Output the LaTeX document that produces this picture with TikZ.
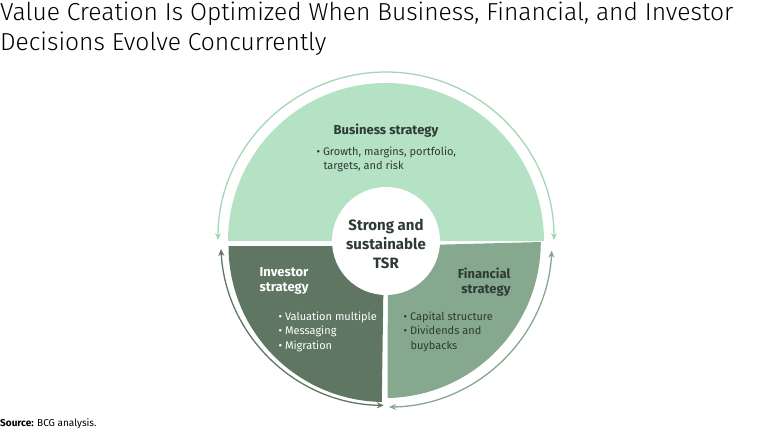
\documentclass[tikz,border=0pt]{standalone}
\usepackage{fontspec}
\setmainfont{Fira Sans}
\newfontfamily\lightf{Fira Sans Light}
\usetikzlibrary{arrows.meta}
\definecolor{topg}{HTML}{B5E2C4}
\definecolor{topa}{HTML}{A3D6B4}
\definecolor{dkg}{HTML}{5E7662}
\definecolor{mdg}{HTML}{86A88E}
\definecolor{txt}{HTML}{2E3A33}
\tikzset{
  cyc/.style={line width=1.3pt,{Stealth[length=7pt,width=6pt]}-{Stealth[length=7pt,width=6pt]}},
  head/.style={font=\fontsize{13}{15}\selectfont\bfseries,align=left},
  body/.style={font=\fontsize{11}{14.5}\selectfont,align=left,anchor=north west}
}
\begin{document}
\begin{tikzpicture}[x=1pt,y=-1pt]
\useasboundingbox (0,0) rectangle (768,433);
\node[anchor=west,inner sep=0,font=\lightf\fontsize{24.6}{28}\selectfont] (t1) at (0,14) {Value Creation Is Optimized When Business, Financial, and Investor};
\node[anchor=west,inner sep=0,font=\lightf\fontsize{24.6}{28}\selectfont] (t2) at (0,44) {Decisions Evolve Concurrently};
% pie
\fill[topg] (228,241) arc[start angle=180,end angle=360,radius=158] -- cycle;
\fill[dkg] (384,246) -- (228.5,246) arc[start angle=180,end angle=91,radius=156] -- cycle;
\fill[mdg] (388,246) -- (387.5,398) arc[start angle=89,end angle=0,radius=156] -- cycle;
\fill[white] (386,241) circle[radius=54];
\node[font=\fontsize{15}{19}\selectfont\bfseries,align=center,text=txt] (c) at (386,244) {Strong and\\sustainable\\TSR};
% arcs
\coordinate (a1) at (218,240);
\coordinate (a2) at (554,240);
\draw[cyc,topa] (a1) arc[start angle=180,end angle=360,radius=168];
\draw[cyc,dkg] (221,249) arc[start angle=177,end angle=90.7,radius=165];
\draw[cyc,mdg] (389,407) arc[start angle=89.3,end angle=3,radius=165];
% texts
\node[head,text=txt] (bs) at (386,131) {Business strategy};
\node[body,text=txt] (bl) at (313,143) {\textbullet\ Growth, margins, portfolio,\\\hspace*{7pt}targets, and risk};
\node[head,text=white,anchor=north west] (is) at (256,264) {Investor\\strategy};
\node[body,text=white] (il) at (275,308) {\textbullet\ Valuation multiple\\\textbullet\ Messaging\\\textbullet\ Migration};
\node[head,text=txt,anchor=north east,align=right] (fs) at (514,264) {Financial\\strategy};
\node[body,text=txt] (fl) at (400,308) {\textbullet\ Capital structure\\\textbullet\ Dividends and\\\hspace*{7pt}buybacks};
\node[anchor=west,inner sep=0,font=\fontsize{10}{12}\selectfont] (src) at (0,424) {\textbf{Source:} BCG analysis.};
\end{tikzpicture}
\end{document}
